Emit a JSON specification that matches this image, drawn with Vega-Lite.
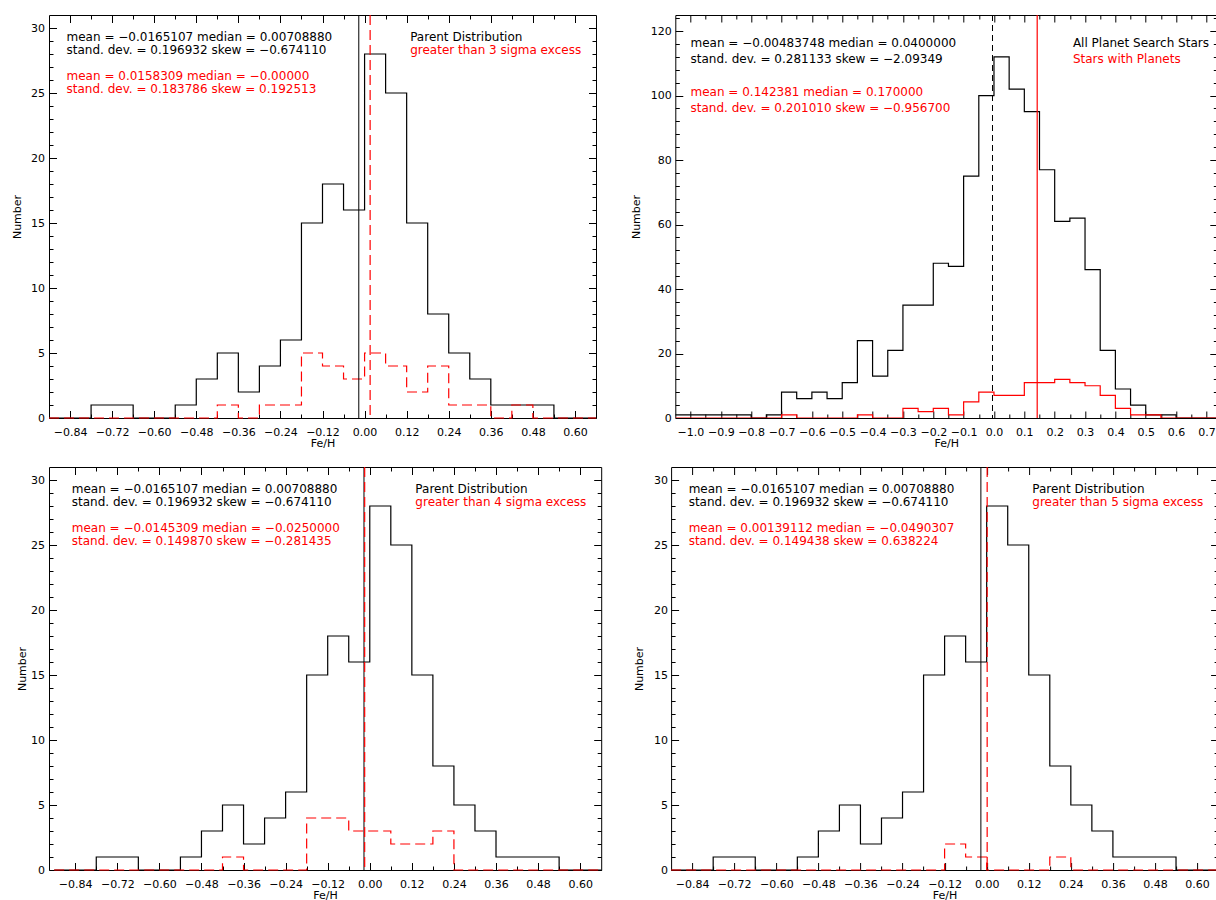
{
  "$schema": "https://vega.github.io/schema/vega-lite/v6.json",
  "background": "white",
  "padding": {"left": 11, "top": 14, "right": 0, "bottom": 0},
  "config": {
    "view": {"stroke": null},
    "font": "DejaVu Sans",
    "axis": {"labelFont": "DejaVu Sans", "labelFontSize": 11, "labelColor": "#000000", "titleFont": "DejaVu Sans", "titleFontSize": 11, "titleFontWeight": "normal", "titleColor": "#000000", "tickColor": "#000000", "tickWidth": 1, "domainColor": "#000000", "domainWidth": 1, "grid": false, "labelFlush": false, "labelOverlap": false}
  },
  "datasets": {
    "parent": [{"x":-0.9,"n":0},{"x":-0.84,"n":0},{"x":-0.78,"n":1},{"x":-0.72,"n":1},{"x":-0.66,"n":0},{"x":-0.6,"n":0},{"x":-0.54,"n":1},{"x":-0.48,"n":3},{"x":-0.42,"n":5},{"x":-0.36,"n":2},{"x":-0.3,"n":4},{"x":-0.24,"n":6},{"x":-0.18,"n":15},{"x":-0.12,"n":18},{"x":-0.06,"n":16},{"x":0,"n":28},{"x":0.06,"n":25},{"x":0.12,"n":15},{"x":0.18,"n":8},{"x":0.24,"n":5},{"x":0.3,"n":3},{"x":0.36,"n":1},{"x":0.42,"n":1},{"x":0.48,"n":1},{"x":0.54,"n":0},{"x":0.6,"n":0},{"x":0.66,"n":0}],
    "sig3": [{"x":-0.9,"n":0},{"x":-0.84,"n":0},{"x":-0.78,"n":0},{"x":-0.72,"n":0},{"x":-0.66,"n":0},{"x":-0.6,"n":0},{"x":-0.54,"n":0},{"x":-0.48,"n":0},{"x":-0.42,"n":1},{"x":-0.36,"n":0},{"x":-0.3,"n":1},{"x":-0.24,"n":1},{"x":-0.18,"n":5},{"x":-0.12,"n":4},{"x":-0.06,"n":3},{"x":0,"n":5},{"x":0.06,"n":4},{"x":0.12,"n":2},{"x":0.18,"n":4},{"x":0.24,"n":1},{"x":0.3,"n":1},{"x":0.36,"n":0},{"x":0.42,"n":1},{"x":0.48,"n":0},{"x":0.54,"n":0},{"x":0.6,"n":0},{"x":0.66,"n":0}],
    "sig4": [{"x":-0.9,"n":0},{"x":-0.84,"n":0},{"x":-0.78,"n":0},{"x":-0.72,"n":0},{"x":-0.66,"n":0},{"x":-0.6,"n":0},{"x":-0.54,"n":0},{"x":-0.48,"n":0},{"x":-0.42,"n":1},{"x":-0.36,"n":0},{"x":-0.3,"n":0},{"x":-0.24,"n":0},{"x":-0.18,"n":4},{"x":-0.12,"n":4},{"x":-0.06,"n":3},{"x":0,"n":3},{"x":0.06,"n":2},{"x":0.12,"n":2},{"x":0.18,"n":3},{"x":0.24,"n":0},{"x":0.3,"n":0},{"x":0.36,"n":0},{"x":0.42,"n":0},{"x":0.48,"n":0},{"x":0.54,"n":0},{"x":0.6,"n":0},{"x":0.66,"n":0}],
    "sig5": [{"x":-0.9,"n":0},{"x":-0.84,"n":0},{"x":-0.78,"n":0},{"x":-0.72,"n":0},{"x":-0.66,"n":0},{"x":-0.6,"n":0},{"x":-0.54,"n":0},{"x":-0.48,"n":0},{"x":-0.42,"n":0},{"x":-0.36,"n":0},{"x":-0.3,"n":0},{"x":-0.24,"n":0},{"x":-0.18,"n":0},{"x":-0.12,"n":2},{"x":-0.06,"n":1},{"x":0,"n":0},{"x":0.06,"n":0},{"x":0.12,"n":0},{"x":0.18,"n":1},{"x":0.24,"n":0},{"x":0.3,"n":0},{"x":0.36,"n":0},{"x":0.42,"n":0},{"x":0.48,"n":0},{"x":0.54,"n":0},{"x":0.6,"n":0},{"x":0.66,"n":0}],
    "allstars": [{"x":-1.05,"n":1},{"x":-1.0,"n":1},{"x":-0.95,"n":1},{"x":-0.9,"n":1},{"x":-0.85,"n":1},{"x":-0.8,"n":0},{"x":-0.75,"n":1},{"x":-0.7,"n":8},{"x":-0.65,"n":6},{"x":-0.6,"n":8},{"x":-0.55,"n":6},{"x":-0.5,"n":11},{"x":-0.45,"n":24},{"x":-0.4,"n":13},{"x":-0.35,"n":21},{"x":-0.3,"n":35},{"x":-0.25,"n":35},{"x":-0.2,"n":48},{"x":-0.15,"n":47},{"x":-0.1,"n":75},{"x":-0.05,"n":100},{"x":0,"n":112},{"x":0.05,"n":102},{"x":0.1,"n":95},{"x":0.15,"n":77},{"x":0.2,"n":61},{"x":0.25,"n":62},{"x":0.3,"n":46},{"x":0.35,"n":21},{"x":0.4,"n":9},{"x":0.45,"n":4},{"x":0.5,"n":1},{"x":0.55,"n":1},{"x":0.6,"n":0},{"x":0.65,"n":0},{"x":0.7,"n":0},{"x":0.75,"n":0}],
    "planets": [{"x":-1.05,"n":0},{"x":-1.0,"n":0},{"x":-0.95,"n":0},{"x":-0.9,"n":0},{"x":-0.85,"n":0},{"x":-0.8,"n":0},{"x":-0.75,"n":0},{"x":-0.7,"n":1},{"x":-0.65,"n":0},{"x":-0.6,"n":0},{"x":-0.55,"n":0},{"x":-0.5,"n":0},{"x":-0.45,"n":1},{"x":-0.4,"n":0},{"x":-0.35,"n":0},{"x":-0.3,"n":3},{"x":-0.25,"n":2},{"x":-0.2,"n":3},{"x":-0.15,"n":1},{"x":-0.1,"n":5},{"x":-0.05,"n":8},{"x":0,"n":7},{"x":0.05,"n":7},{"x":0.1,"n":11},{"x":0.15,"n":11},{"x":0.2,"n":12},{"x":0.25,"n":11},{"x":0.3,"n":10},{"x":0.35,"n":7},{"x":0.4,"n":3},{"x":0.45,"n":1},{"x":0.5,"n":1},{"x":0.55,"n":0},{"x":0.6,"n":0},{"x":0.65,"n":0},{"x":0.7,"n":0},{"x":0.75,"n":0}],
    "means": [{"panel":1,"group":"parent","v":-0.0165107},{"panel":1,"group":"excess","v":0.0158309},{"panel":2,"group":"parent","v":-0.00483748},{"panel":2,"group":"excess","v":0.142381},{"panel":3,"group":"parent","v":-0.0165107},{"panel":3,"group":"excess","v":-0.0145309},{"panel":4,"group":"parent","v":-0.0165107},{"panel":4,"group":"excess","v":0.00139112}],
    "notes": [
      {"id":"p1s","t":"mean = −0.0165107 median = 0.00708880\nstand. dev. = 0.196932 skew = −0.674110"},
      {"id":"p1r","t":"mean = 0.0158309 median = −0.00000\nstand. dev. = 0.183786 skew = 0.192513"},
      {"id":"p1a","t":"Parent Distribution"},
      {"id":"p1b","t":"greater than 3 sigma excess"},
      {"id":"p2s","t":"mean = −0.00483748 median = 0.0400000\nstand. dev. = 0.281133 skew = −2.09349"},
      {"id":"p2r","t":"mean = 0.142381 median = 0.170000\nstand. dev. = 0.201010 skew = −0.956700"},
      {"id":"p2a","t":"All Planet Search Stars"},
      {"id":"p2b","t":"Stars with Planets"},
      {"id":"p3s","t":"mean = −0.0165107 median = 0.00708880\nstand. dev. = 0.196932 skew = −0.674110"},
      {"id":"p3r","t":"mean = −0.0145309 median = −0.0250000\nstand. dev. = 0.149870 skew = −0.281435"},
      {"id":"p3a","t":"Parent Distribution"},
      {"id":"p3b","t":"greater than 4 sigma excess"},
      {"id":"p4s","t":"mean = −0.0165107 median = 0.00708880\nstand. dev. = 0.196932 skew = −0.674110"},
      {"id":"p4r","t":"mean = 0.00139112 median = −0.0490307\nstand. dev. = 0.149438 skew = 0.638224"},
      {"id":"p4a","t":"Parent Distribution"},
      {"id":"p4b","t":"greater than 5 sigma excess"}
    ]
  },
  "columns": 1,
  "align": "none",
  "bounds": "full",
  "spacing": 17,
  "concat": [
    {
      "bounds": "flush",
      "spacing": 79.3,
      "hconcat": [
        {
          "width": 547, "height": 403,
          "resolve": {"axis": {"x": "independent", "y": "independent"}},
          "layer": [
            {"data": {"name": "parent"}, "mark": {"type": "line", "interpolate": "step-after", "color": "#000000", "strokeWidth": 1.2},
             "encoding": {
               "x": {"field": "x", "type": "quantitative", "scale": {"domain": [-0.9, 0.66], "nice": false, "zero": false}, "axis": {"orient": "bottom", "values": [-0.84,-0.72,-0.6,-0.48,-0.36,-0.24,-0.12,0,0.12,0.24,0.36,0.48,0.6], "format": ".2f", "tickSize": -7.5, "labelPadding": 15.8, "domain": true, "title": "Fe/H", "titlePadding": 0}},
               "y": {"field": "n", "type": "quantitative", "scale": {"domain": [0, 31], "nice": false, "zero": false}, "axis": {"orient": "left", "values": [0,5,10,15,20,25,30], "tickSize": -7.5, "labelPadding": 11.9, "domain": true, "title": "Number", "titlePadding": 8}}}},
            {"data": {"name": "sig3"}, "mark": {"type": "line", "interpolate": "step-after", "color": "#ff0000", "strokeWidth": 1.2, "strokeDash": [10, 5]},
             "encoding": {
               "x": {"field": "x", "type": "quantitative", "scale": {"domain": [-0.9, 0.66], "nice": false, "zero": false}, "axis": {"orient": "top", "values": [-0.84,-0.72,-0.6,-0.48,-0.36,-0.24,-0.12,0,0.12,0.24,0.36,0.48,0.6], "tickSize": -7.5, "labels": false, "domain": true, "title": null}},
               "y": {"field": "n", "type": "quantitative", "scale": {"domain": [0, 31], "nice": false, "zero": false}, "axis": {"orient": "right", "values": [0,5,10,15,20,25,30], "tickSize": -7.5, "labels": false, "domain": true, "title": null}}}},
            {"data": {"name": "means"}, "transform": [{"filter": "datum.panel == 1 && datum.group == 'parent'"}], "mark": {"type": "rule", "color": "#000000", "strokeWidth": 1},
             "encoding": {"x": {"field": "v", "type": "quantitative", "scale": {"domain": [-0.9, 0.66], "nice": false, "zero": false}, "axis": null}}},
            {"data": {"name": "means"}, "transform": [{"filter": "datum.panel == 1 && datum.group == 'excess'"}], "mark": {"type": "rule", "color": "#ff0000", "strokeWidth": 1.2, "strokeDash": [10, 5]},
             "encoding": {"x": {"field": "v", "type": "quantitative", "scale": {"domain": [-0.9, 0.66], "nice": false, "zero": false}, "axis": null}}},
            {"data": {"name": "notes"}, "transform": [{"filter": "datum.id == 'p1s'"}], "mark": {"type": "text", "align": "left", "baseline": "alphabetic", "font": "DejaVu Sans", "fontSize": 12, "lineBreak": "\n", "lineHeight": 13, "color": "#000000"},
             "encoding": {
               "x": {"datum": -0.85, "type": "quantitative", "scale": {"domain": [-0.9, 0.66], "nice": false, "zero": false}, "axis": {"orient": "bottom", "values": [-0.78,-0.66,-0.54,-0.42,-0.3,-0.18,-0.06,0.06,0.18,0.3,0.42,0.54], "tickSize": -4, "labels": false, "domain": false, "title": null}},
               "y": {"datum": 29, "type": "quantitative", "scale": {"domain": [0, 31], "nice": false, "zero": false}, "axis": {"orient": "left", "values": [1,2,3,4,6,7,8,9,11,12,13,14,16,17,18,19,21,22,23,24,26,27,28,29], "tickSize": -4, "labels": false, "domain": false, "title": null}},
               "text": {"field": "t", "type": "nominal"}}},
            {"data": {"name": "notes"}, "transform": [{"filter": "datum.id == 'p1r'"}], "mark": {"type": "text", "align": "left", "baseline": "alphabetic", "font": "DejaVu Sans", "fontSize": 12, "lineBreak": "\n", "lineHeight": 13, "color": "#ff0000"},
             "encoding": {
               "x": {"datum": -0.85, "type": "quantitative", "scale": {"domain": [-0.9, 0.66], "nice": false, "zero": false}, "axis": {"orient": "top", "values": [-0.78,-0.66,-0.54,-0.42,-0.3,-0.18,-0.06,0.06,0.18,0.3,0.42,0.54], "tickSize": -4, "labels": false, "domain": false, "title": null}},
               "y": {"datum": 26, "type": "quantitative", "scale": {"domain": [0, 31], "nice": false, "zero": false}, "axis": {"orient": "right", "values": [1,2,3,4,6,7,8,9,11,12,13,14,16,17,18,19,21,22,23,24,26,27,28,29], "tickSize": -4, "labels": false, "domain": false, "title": null}},
               "text": {"field": "t", "type": "nominal"}}},
            {"data": {"name": "notes"}, "transform": [{"filter": "datum.id == 'p1a'"}], "mark": {"type": "text", "align": "left", "baseline": "alphabetic", "font": "DejaVu Sans", "fontSize": 12, "color": "#000000"},
             "encoding": {
               "x": {"datum": 0.13, "type": "quantitative", "scale": {"domain": [-0.9, 0.66], "nice": false, "zero": false}, "axis": null},
               "y": {"datum": 29, "type": "quantitative", "scale": {"domain": [0, 31], "nice": false, "zero": false}, "axis": null},
               "text": {"field": "t", "type": "nominal"}}},
            {"data": {"name": "notes"}, "transform": [{"filter": "datum.id == 'p1b'"}], "mark": {"type": "text", "align": "left", "baseline": "alphabetic", "font": "DejaVu Sans", "fontSize": 12, "color": "#ff0000"},
             "encoding": {
               "x": {"datum": 0.13, "type": "quantitative", "scale": {"domain": [-0.9, 0.66], "nice": false, "zero": false}, "axis": null},
               "y": {"datum": 28, "type": "quantitative", "scale": {"domain": [0, 31], "nice": false, "zero": false}, "axis": null},
               "text": {"field": "t", "type": "nominal"}}}
          ]
        },
        {
          "width": 542, "height": 403,
          "resolve": {"axis": {"x": "independent", "y": "independent"}},
          "layer": [
            {"data": {"name": "allstars"}, "mark": {"type": "line", "interpolate": "step-after", "color": "#000000", "strokeWidth": 1.2, "clip": true},
             "encoding": {
               "x": {"field": "x", "type": "quantitative", "scale": {"domain": [-1.05, 0.7358], "nice": false, "zero": false}, "axis": {"orient": "bottom", "values": [-1,-0.9,-0.8,-0.7,-0.6,-0.5,-0.4,-0.3,-0.2,-0.1,0,0.1,0.2,0.3,0.4,0.5,0.6,0.7], "format": ".1f", "tickSize": -7, "labelPadding": 15.3, "domain": true, "title": "Fe/H", "titlePadding": 0}},
               "y": {"field": "n", "type": "quantitative", "scale": {"domain": [0, 125], "nice": false, "zero": false}, "axis": {"orient": "left", "values": [0,20,40,60,80,100,120], "tickSize": -7.5, "labelPadding": 11.5, "domain": true, "title": "Number", "titlePadding": 8.7}}}},
            {"data": {"name": "planets"}, "mark": {"type": "line", "interpolate": "step-after", "color": "#ff0000", "strokeWidth": 1.2, "clip": true},
             "encoding": {
               "x": {"field": "x", "type": "quantitative", "scale": {"domain": [-1.05, 0.7358], "nice": false, "zero": false}, "axis": {"orient": "top", "values": [-1,-0.9,-0.8,-0.7,-0.6,-0.5,-0.4,-0.3,-0.2,-0.1,0,0.1,0.2,0.3,0.4,0.5,0.6,0.7], "tickSize": -7, "labels": false, "domain": true, "title": null}},
               "y": {"field": "n", "type": "quantitative", "scale": {"domain": [0, 125], "nice": false, "zero": false}, "axis": {"orient": "right", "values": [0,20,40,60,80,100,120], "tickSize": -7.5, "labels": false, "domain": true, "title": null}}}},
            {"data": {"name": "means"}, "transform": [{"filter": "datum.panel == 2 && datum.group == 'parent'"}], "mark": {"type": "rule", "color": "#000000", "strokeWidth": 1, "strokeDash": [6, 4]},
             "encoding": {"x": {"field": "v", "type": "quantitative", "scale": {"domain": [-1.05, 0.7358], "nice": false, "zero": false}, "axis": null}}},
            {"data": {"name": "means"}, "transform": [{"filter": "datum.panel == 2 && datum.group == 'excess'"}], "mark": {"type": "rule", "color": "#ff0000", "strokeWidth": 1.2},
             "encoding": {"x": {"field": "v", "type": "quantitative", "scale": {"domain": [-1.05, 0.7358], "nice": false, "zero": false}, "axis": null}}},
            {"data": {"name": "notes"}, "transform": [{"filter": "datum.id == 'p2s'"}], "mark": {"type": "text", "align": "left", "baseline": "alphabetic", "font": "DejaVu Sans", "fontSize": 12, "lineBreak": "\n", "lineHeight": 16.1, "color": "#000000"},
             "encoding": {
               "x": {"datum": -1.0, "type": "quantitative", "scale": {"domain": [-1.05, 0.7358], "nice": false, "zero": false}, "axis": {"orient": "bottom", "values": [-0.95,-0.85,-0.75,-0.65,-0.55,-0.45,-0.35,-0.25,-0.15,-0.05,0.05,0.15,0.25,0.35,0.45,0.55,0.65], "tickSize": -4, "labels": false, "domain": false, "title": null}},
               "y": {"datum": 115, "type": "quantitative", "scale": {"domain": [0, 125], "nice": false, "zero": false}, "axis": {"orient": "left", "values": [4,8,12,16,24,28,32,36,44,48,52,56,64,68,72,76,84,88,92,96,104,108,112,116,124], "tickSize": -4, "labels": false, "domain": false, "title": null}},
               "text": {"field": "t", "type": "nominal"}}},
            {"data": {"name": "notes"}, "transform": [{"filter": "datum.id == 'p2r'"}], "mark": {"type": "text", "align": "left", "baseline": "alphabetic", "font": "DejaVu Sans", "fontSize": 12, "lineBreak": "\n", "lineHeight": 16.1, "color": "#ff0000"},
             "encoding": {
               "x": {"datum": -1.0, "type": "quantitative", "scale": {"domain": [-1.05, 0.7358], "nice": false, "zero": false}, "axis": {"orient": "top", "values": [-0.95,-0.85,-0.75,-0.65,-0.55,-0.45,-0.35,-0.25,-0.15,-0.05,0.05,0.15,0.25,0.35,0.45,0.55,0.65], "tickSize": -4, "labels": false, "domain": false, "title": null}},
               "y": {"datum": 100, "type": "quantitative", "scale": {"domain": [0, 125], "nice": false, "zero": false}, "axis": {"orient": "right", "values": [4,8,12,16,24,28,32,36,44,48,52,56,64,68,72,76,84,88,92,96,104,108,112,116,124], "tickSize": -4, "labels": false, "domain": false, "title": null}},
               "text": {"field": "t", "type": "nominal"}}},
            {"data": {"name": "notes"}, "transform": [{"filter": "datum.id == 'p2a'"}], "mark": {"type": "text", "align": "left", "baseline": "alphabetic", "font": "DejaVu Sans", "fontSize": 12, "color": "#000000"},
             "encoding": {
               "x": {"datum": 0.26, "type": "quantitative", "scale": {"domain": [-1.05, 0.7358], "nice": false, "zero": false}, "axis": null},
               "y": {"datum": 115, "type": "quantitative", "scale": {"domain": [0, 125], "nice": false, "zero": false}, "axis": null},
               "text": {"field": "t", "type": "nominal"}}},
            {"data": {"name": "notes"}, "transform": [{"filter": "datum.id == 'p2b'"}], "mark": {"type": "text", "align": "left", "baseline": "alphabetic", "font": "DejaVu Sans", "fontSize": 12, "color": "#ff0000"},
             "encoding": {
               "x": {"datum": 0.26, "type": "quantitative", "scale": {"domain": [-1.05, 0.7358], "nice": false, "zero": false}, "axis": null},
               "y": {"datum": 110, "type": "quantitative", "scale": {"domain": [0, 125], "nice": false, "zero": false}, "axis": null},
               "text": {"field": "t", "type": "nominal"}}}
          ]
        }
      ]
    },
    {
      "bounds": "flush",
      "spacing": 69.1,
      "hconcat": [
        {
          "width": 552.2, "height": 403,
          "resolve": {"axis": {"x": "independent", "y": "independent"}},
          "layer": [
            {"data": {"name": "parent"}, "mark": {"type": "line", "interpolate": "step-after", "color": "#000000", "strokeWidth": 1.2},
             "encoding": {
               "x": {"field": "x", "type": "quantitative", "scale": {"domain": [-0.9148, 0.66], "nice": false, "zero": false}, "axis": {"orient": "bottom", "values": [-0.84,-0.72,-0.6,-0.48,-0.36,-0.24,-0.12,0,0.12,0.24,0.36,0.48,0.6], "format": ".2f", "tickSize": -7.5, "labelPadding": 15.8, "domain": true, "title": "Fe/H", "titlePadding": 0}},
               "y": {"field": "n", "type": "quantitative", "scale": {"domain": [0, 31], "nice": false, "zero": false}, "axis": {"orient": "left", "values": [0,5,10,15,20,25,30], "tickSize": -7.5, "labelPadding": 11.9, "domain": true, "title": "Number", "titlePadding": 3}}}},
            {"data": {"name": "sig4"}, "mark": {"type": "line", "interpolate": "step-after", "color": "#ff0000", "strokeWidth": 1.2, "strokeDash": [10, 5]},
             "encoding": {
               "x": {"field": "x", "type": "quantitative", "scale": {"domain": [-0.9148, 0.66], "nice": false, "zero": false}, "axis": {"orient": "top", "values": [-0.84,-0.72,-0.6,-0.48,-0.36,-0.24,-0.12,0,0.12,0.24,0.36,0.48,0.6], "tickSize": -7.5, "labels": false, "domain": true, "title": null}},
               "y": {"field": "n", "type": "quantitative", "scale": {"domain": [0, 31], "nice": false, "zero": false}, "axis": {"orient": "right", "values": [0,5,10,15,20,25,30], "tickSize": -7.5, "labels": false, "domain": true, "title": null}}}},
            {"data": {"name": "means"}, "transform": [{"filter": "datum.panel == 3 && datum.group == 'parent'"}], "mark": {"type": "rule", "color": "#000000", "strokeWidth": 1},
             "encoding": {"x": {"field": "v", "type": "quantitative", "scale": {"domain": [-0.9148, 0.66], "nice": false, "zero": false}, "axis": null}}},
            {"data": {"name": "means"}, "transform": [{"filter": "datum.panel == 3 && datum.group == 'excess'"}], "mark": {"type": "rule", "color": "#ff0000", "strokeWidth": 1.2, "strokeDash": [10, 5]},
             "encoding": {"x": {"field": "v", "type": "quantitative", "scale": {"domain": [-0.9148, 0.66], "nice": false, "zero": false}, "axis": null}}},
            {"data": {"name": "notes"}, "transform": [{"filter": "datum.id == 'p3s'"}], "mark": {"type": "text", "align": "left", "baseline": "alphabetic", "font": "DejaVu Sans", "fontSize": 12, "lineBreak": "\n", "lineHeight": 13, "color": "#000000"},
             "encoding": {
               "x": {"datum": -0.85, "type": "quantitative", "scale": {"domain": [-0.9148, 0.66], "nice": false, "zero": false}, "axis": {"orient": "bottom", "values": [-0.78,-0.66,-0.54,-0.42,-0.3,-0.18,-0.06,0.06,0.18,0.3,0.42,0.54], "tickSize": -4, "labels": false, "domain": false, "title": null}},
               "y": {"datum": 29, "type": "quantitative", "scale": {"domain": [0, 31], "nice": false, "zero": false}, "axis": {"orient": "left", "values": [1,2,3,4,6,7,8,9,11,12,13,14,16,17,18,19,21,22,23,24,26,27,28,29], "tickSize": -4, "labels": false, "domain": false, "title": null}},
               "text": {"field": "t", "type": "nominal"}}},
            {"data": {"name": "notes"}, "transform": [{"filter": "datum.id == 'p3r'"}], "mark": {"type": "text", "align": "left", "baseline": "alphabetic", "font": "DejaVu Sans", "fontSize": 12, "lineBreak": "\n", "lineHeight": 13, "color": "#ff0000"},
             "encoding": {
               "x": {"datum": -0.85, "type": "quantitative", "scale": {"domain": [-0.9148, 0.66], "nice": false, "zero": false}, "axis": {"orient": "top", "values": [-0.78,-0.66,-0.54,-0.42,-0.3,-0.18,-0.06,0.06,0.18,0.3,0.42,0.54], "tickSize": -4, "labels": false, "domain": false, "title": null}},
               "y": {"datum": 26, "type": "quantitative", "scale": {"domain": [0, 31], "nice": false, "zero": false}, "axis": {"orient": "right", "values": [1,2,3,4,6,7,8,9,11,12,13,14,16,17,18,19,21,22,23,24,26,27,28,29], "tickSize": -4, "labels": false, "domain": false, "title": null}},
               "text": {"field": "t", "type": "nominal"}}},
            {"data": {"name": "notes"}, "transform": [{"filter": "datum.id == 'p3a'"}], "mark": {"type": "text", "align": "left", "baseline": "alphabetic", "font": "DejaVu Sans", "fontSize": 12, "color": "#000000"},
             "encoding": {
               "x": {"datum": 0.13, "type": "quantitative", "scale": {"domain": [-0.9148, 0.66], "nice": false, "zero": false}, "axis": null},
               "y": {"datum": 29, "type": "quantitative", "scale": {"domain": [0, 31], "nice": false, "zero": false}, "axis": null},
               "text": {"field": "t", "type": "nominal"}}},
            {"data": {"name": "notes"}, "transform": [{"filter": "datum.id == 'p3b'"}], "mark": {"type": "text", "align": "left", "baseline": "alphabetic", "font": "DejaVu Sans", "fontSize": 12, "color": "#ff0000"},
             "encoding": {
               "x": {"datum": 0.13, "type": "quantitative", "scale": {"domain": [-0.9148, 0.66], "nice": false, "zero": false}, "axis": null},
               "y": {"datum": 28, "type": "quantitative", "scale": {"domain": [0, 31], "nice": false, "zero": false}, "axis": null},
               "text": {"field": "t", "type": "nominal"}}}
          ]
        },
        {
          "width": 547, "height": 403,
          "resolve": {"axis": {"x": "independent", "y": "independent"}},
          "layer": [
            {"data": {"name": "parent"}, "mark": {"type": "line", "interpolate": "step-after", "color": "#000000", "strokeWidth": 1.2},
             "encoding": {
               "x": {"field": "x", "type": "quantitative", "scale": {"domain": [-0.9, 0.66], "nice": false, "zero": false}, "axis": {"orient": "bottom", "values": [-0.84,-0.72,-0.6,-0.48,-0.36,-0.24,-0.12,0,0.12,0.24,0.36,0.48,0.6], "format": ".2f", "tickSize": -7.5, "labelPadding": 15.8, "domain": true, "title": "Fe/H", "titlePadding": 0}},
               "y": {"field": "n", "type": "quantitative", "scale": {"domain": [0, 31], "nice": false, "zero": false}, "axis": {"orient": "left", "values": [0,5,10,15,20,25,30], "tickSize": -7.5, "labelPadding": 11, "domain": true, "title": "Number", "titlePadding": 8.7}}}},
            {"data": {"name": "sig5"}, "mark": {"type": "line", "interpolate": "step-after", "color": "#ff0000", "strokeWidth": 1.2, "strokeDash": [10, 5]},
             "encoding": {
               "x": {"field": "x", "type": "quantitative", "scale": {"domain": [-0.9, 0.66], "nice": false, "zero": false}, "axis": {"orient": "top", "values": [-0.84,-0.72,-0.6,-0.48,-0.36,-0.24,-0.12,0,0.12,0.24,0.36,0.48,0.6], "tickSize": -7.5, "labels": false, "domain": true, "title": null}},
               "y": {"field": "n", "type": "quantitative", "scale": {"domain": [0, 31], "nice": false, "zero": false}, "axis": {"orient": "right", "values": [0,5,10,15,20,25,30], "tickSize": -7.5, "labels": false, "domain": true, "title": null}}}},
            {"data": {"name": "means"}, "transform": [{"filter": "datum.panel == 4 && datum.group == 'parent'"}], "mark": {"type": "rule", "color": "#000000", "strokeWidth": 1},
             "encoding": {"x": {"field": "v", "type": "quantitative", "scale": {"domain": [-0.9, 0.66], "nice": false, "zero": false}, "axis": null}}},
            {"data": {"name": "means"}, "transform": [{"filter": "datum.panel == 4 && datum.group == 'excess'"}], "mark": {"type": "rule", "color": "#ff0000", "strokeWidth": 1.2, "strokeDash": [10, 5]},
             "encoding": {"x": {"field": "v", "type": "quantitative", "scale": {"domain": [-0.9, 0.66], "nice": false, "zero": false}, "axis": null}}},
            {"data": {"name": "notes"}, "transform": [{"filter": "datum.id == 'p4s'"}], "mark": {"type": "text", "align": "left", "baseline": "alphabetic", "font": "DejaVu Sans", "fontSize": 12, "lineBreak": "\n", "lineHeight": 13, "color": "#000000"},
             "encoding": {
               "x": {"datum": -0.85, "type": "quantitative", "scale": {"domain": [-0.9, 0.66], "nice": false, "zero": false}, "axis": {"orient": "bottom", "values": [-0.78,-0.66,-0.54,-0.42,-0.3,-0.18,-0.06,0.06,0.18,0.3,0.42,0.54], "tickSize": -4, "labels": false, "domain": false, "title": null}},
               "y": {"datum": 29, "type": "quantitative", "scale": {"domain": [0, 31], "nice": false, "zero": false}, "axis": {"orient": "left", "values": [1,2,3,4,6,7,8,9,11,12,13,14,16,17,18,19,21,22,23,24,26,27,28,29], "tickSize": -4, "labels": false, "domain": false, "title": null}},
               "text": {"field": "t", "type": "nominal"}}},
            {"data": {"name": "notes"}, "transform": [{"filter": "datum.id == 'p4r'"}], "mark": {"type": "text", "align": "left", "baseline": "alphabetic", "font": "DejaVu Sans", "fontSize": 12, "lineBreak": "\n", "lineHeight": 13, "color": "#ff0000"},
             "encoding": {
               "x": {"datum": -0.85, "type": "quantitative", "scale": {"domain": [-0.9, 0.66], "nice": false, "zero": false}, "axis": {"orient": "top", "values": [-0.78,-0.66,-0.54,-0.42,-0.3,-0.18,-0.06,0.06,0.18,0.3,0.42,0.54], "tickSize": -4, "labels": false, "domain": false, "title": null}},
               "y": {"datum": 26, "type": "quantitative", "scale": {"domain": [0, 31], "nice": false, "zero": false}, "axis": {"orient": "right", "values": [1,2,3,4,6,7,8,9,11,12,13,14,16,17,18,19,21,22,23,24,26,27,28,29], "tickSize": -4, "labels": false, "domain": false, "title": null}},
               "text": {"field": "t", "type": "nominal"}}},
            {"data": {"name": "notes"}, "transform": [{"filter": "datum.id == 'p4a'"}], "mark": {"type": "text", "align": "left", "baseline": "alphabetic", "font": "DejaVu Sans", "fontSize": 12, "color": "#000000"},
             "encoding": {
               "x": {"datum": 0.13, "type": "quantitative", "scale": {"domain": [-0.9, 0.66], "nice": false, "zero": false}, "axis": null},
               "y": {"datum": 29, "type": "quantitative", "scale": {"domain": [0, 31], "nice": false, "zero": false}, "axis": null},
               "text": {"field": "t", "type": "nominal"}}},
            {"data": {"name": "notes"}, "transform": [{"filter": "datum.id == 'p4b'"}], "mark": {"type": "text", "align": "left", "baseline": "alphabetic", "font": "DejaVu Sans", "fontSize": 12, "color": "#ff0000"},
             "encoding": {
               "x": {"datum": 0.13, "type": "quantitative", "scale": {"domain": [-0.9, 0.66], "nice": false, "zero": false}, "axis": null},
               "y": {"datum": 28, "type": "quantitative", "scale": {"domain": [0, 31], "nice": false, "zero": false}, "axis": null},
               "text": {"field": "t", "type": "nominal"}}}
          ]
        }
      ]
    }
  ]
}
